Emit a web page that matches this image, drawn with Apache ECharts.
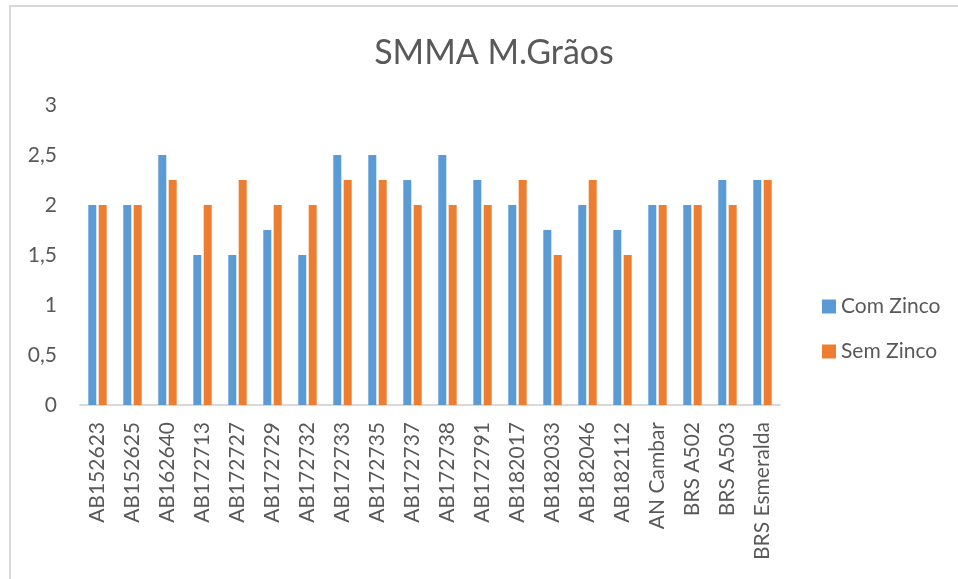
<!DOCTYPE html>
<html>
<head>
<meta charset="utf-8">
<script src="https://cdn.jsdelivr.net/npm/echarts@6/dist/echarts.min.js"></script>
<style>
  html, body { margin: 0; padding: 0; background: #fff; }
  #chart { width: 958px; height: 579px; }
</style>
</head>
<body>
<div id="chart"></div>
<script>
// categorias (genótipos)
var categories = ['AB152623', 'AB152625', 'AB162640', 'AB172713', 'AB172727', 'AB172729', 'AB172732',
  'AB172733', 'AB172735', 'AB172737', 'AB172738', 'AB172791', 'AB182017', 'AB182033',
  'AB182046', 'AB182112', 'AN Cambar', 'BRS A502', 'BRS A503', 'BRS Esmeralda'];
var comZinco = [2, 2, 2.5, 1.5, 1.5, 1.75, 1.5, 2.5, 2.5, 2.25, 2.5, 2.25, 2, 1.75, 2, 1.75, 2, 2, 2.25, 2.25];
var semZinco = [2, 2, 2.25, 2, 2.25, 2, 2, 2.25, 2.25, 2, 2, 2, 2.25, 1.5, 2.25, 1.5, 2, 2, 2, 2.25];
var yTicks = [0, 0.5, 1, 1.5, 2, 2.5, 3];

var font = 'Lato, "Open Sans", sans-serif';
var textColor = '#595959';

var myChart = echarts.init(document.getElementById('chart'));
var option = {
  backgroundColor: '#fff',
  animation: false,
  title: {
    text: 'SMMA M.Grãos',
    left: 489, top: 31, textAlign: 'center',
    textStyle: { fontFamily: font, fontSize: 34, fontWeight: 'normal', color: textColor }
  },
  // moldura do gráfico
  graphic: [{
    type: 'rect', silent: true,
    shape: { x: 10, y: 6, width: 1000, height: 1000 },
    style: { fill: 'none', stroke: '#d9d9d9', lineWidth: 2 }
  }],
  legend: {
    orient: 'vertical',
    left: 817, top: 291,
    itemWidth: 14, itemHeight: 14, itemGap: 24,
    icon: 'rect',
    textStyle: { fontFamily: font, fontSize: 21, color: textColor },
    data: ['Com Zinco', 'Sem Zinco']
  },
  grid: { left: 80, right: 178, top: 105, bottom: 174 },
  xAxis: {
    type: 'category',
    data: categories,
    axisLine: { lineStyle: { color: '#d9d9d9', width: 2 } },
    axisTick: { show: false },
    axisLabel: {
      rotate: 90, margin: 17, interval: 0,
      fontFamily: font, fontSize: 21, color: textColor
    }
  },
  yAxis: {
    type: 'value',
    min: 0, max: 3, interval: 0.5,
    splitLine: { show: false },
    axisLine: { show: false },
    axisTick: { show: false },
    axisLabel: {
      margin: 23,
      fontFamily: font, fontSize: 21, color: textColor,
      formatter: function (v) {
        return yTicks.indexOf(v) >= 0 ? String(v).replace('.', ',') : '';
      }
    }
  },
  series: [
    { name: 'Com Zinco', type: 'bar', data: comZinco, barWidth: 8, barGap: '30%',
      itemStyle: { color: '#5B9BD5' } },
    { name: 'Sem Zinco', type: 'bar', data: semZinco, barWidth: 8,
      itemStyle: { color: '#ED7D31' } }
  ]
};
myChart.setOption(option);
</script>
</body>
</html>
